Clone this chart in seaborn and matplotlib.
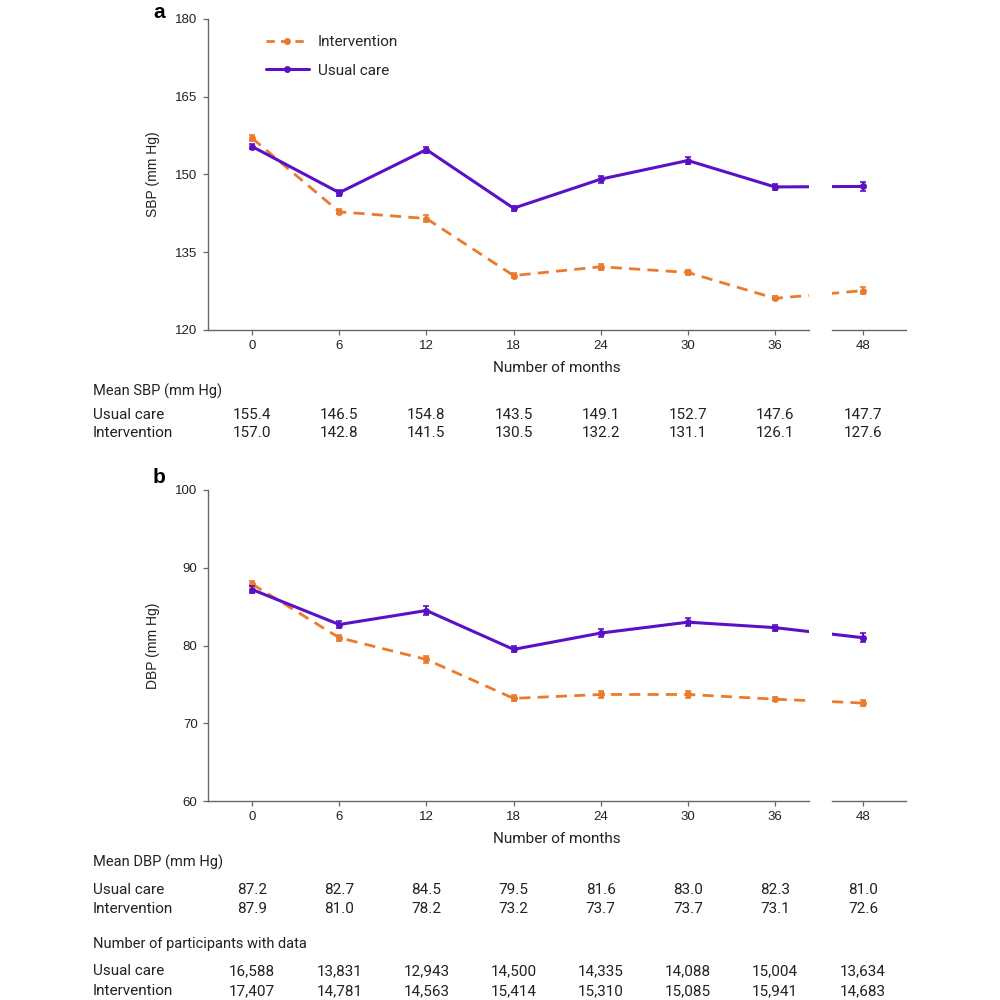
import numpy as np
import pandas as pd
import matplotlib
matplotlib.use("Agg")
import matplotlib.pyplot as plt
from matplotlib.lines import Line2D
import seaborn as sns

# ---- data ----
months = [0, 6, 12, 18, 24, 30, 36, 48]
groups = ["Intervention", "Usual care"]

sbp_usual = [155.4, 146.5, 154.8, 143.5, 149.1, 152.7, 147.6, 147.7]
sbp_interv = [157.0, 142.8, 141.5, 130.5, 132.2, 131.1, 126.1, 127.6]
sbp_usual_err = [0.5, 0.6, 0.6, 0.5, 0.7, 0.6, 0.5, 0.9]
sbp_interv_err = [0.6, 0.5, 0.7, 0.5, 0.6, 0.5, 0.4, 0.7]

dbp_usual = [87.2, 82.7, 84.5, 79.5, 81.6, 83.0, 82.3, 81.0]
dbp_interv = [87.9, 81.0, 78.2, 73.2, 73.7, 73.7, 73.1, 72.6]
dbp_usual_err = [0.4, 0.4, 0.6, 0.4, 0.5, 0.5, 0.4, 0.6]
dbp_interv_err = [0.4, 0.4, 0.5, 0.4, 0.4, 0.4, 0.3, 0.4]

n_usual = ["16,588", "13,831", "12,943", "14,500", "14,335", "14,088", "15,004", "13,634"]
n_interv = ["17,407", "14,781", "14,563", "15,414", "15,310", "15,085", "15,941", "14,683"]

colors = {"Intervention": "#EC7A2C", "Usual care": "#5B10C6"}
interv_dashes = (4, 2.6)

sns.set_theme(style="ticks")
plt.rcParams["font.family"] = ["Liberation Sans", "DejaVu Sans"]
plt.rcParams["axes.edgecolor"] = "#666666"
plt.rcParams["xtick.color"] = "#666666"
plt.rcParams["ytick.color"] = "#666666"
plt.rcParams["xtick.labelcolor"] = "#222222"
plt.rcParams["ytick.labelcolor"] = "#222222"

fig = plt.figure(figsize=(10, 10), dpi=100)

# positions are category indices (48 sits one step after 36, behind an axis break)
pos = list(range(len(months)))


def make_df(usual, interv, usual_err, interv_err):
    rows = []
    for i, m in enumerate(months):
        rows.append({"pos": pos[i], "month": m, "group": "Usual care",
                     "value": usual[i], "err": usual_err[i]})
        rows.append({"pos": pos[i], "month": m, "group": "Intervention",
                     "value": interv[i], "err": interv_err[i]})
    return pd.DataFrame(rows)


def draw_panel(bottom, df, ylim, yticks, ylabel, letter, letter_y):
    ax_l = fig.add_axes([0.208, bottom, 0.601, 0.311])
    ax_r = fig.add_axes([0.832, bottom, 0.074, 0.311], sharey=ax_l)
    for ax in (ax_l, ax_r):
        # intervention first so usual care sits on top
        for g in groups:
            sub = df[df["group"] == g]
            sns.lineplot(data=sub, x="pos", y="value", ax=ax, color=colors[g],
                         linewidth=2.2 if g == "Usual care" else 2.0,
                         marker="o", markersize=5, markeredgewidth=0,
                         legend=False, zorder=3 if g == "Usual care" else 2)
            ax.errorbar(sub["pos"], sub["value"], yerr=sub["err"], fmt="none",
                        ecolor=colors[g], elinewidth=1.4, capsize=2.5,
                        capthick=1.2, zorder=4)
        for l in ax.get_lines():
            if l.get_color() == colors["Intervention"]:
                l.set_dashes(interv_dashes)
        ax.set_xlabel("")
        ax.set_ylabel("")
        ax.tick_params(axis="both", length=3.5, width=0.9, labelsize=9.5, pad=4)
        for s in ("top", "right"):
            ax.spines[s].set_visible(False)
        ax.spines["bottom"].set_linewidth(1.0)
        ax.spines["left"].set_linewidth(1.0)
    ax_l.set_xlim(-0.506, 6.39)
    ax_r.set_xlim(6.644, 7.494)
    ax_l.set_xticks(pos[:7])
    ax_l.set_xticklabels([str(m) for m in months[:7]])
    ax_r.set_xticks([pos[7]])
    ax_r.set_xticklabels([str(months[7])])
    ax_l.set_ylim(*ylim)
    ax_l.set_yticks(yticks)
    ax_r.spines["left"].set_visible(False)
    ax_r.tick_params(axis="y", left=False, labelleft=False)
    ax_l.set_ylabel(ylabel, fontsize=10, color="#222222")
    ax_l.yaxis.set_label_coords(-0.08, 0.5)
    fig.text(0.557, bottom - 0.038, "Number of months", ha="center", va="center",
             fontsize=11, color="#222222", family=["Roboto", "DejaVu Sans"])
    fig.text(0.153, letter_y, letter, ha="left", va="top",
             fontsize=15, fontweight="bold", color="black")
    return ax_l, ax_r


sbp_df = make_df(sbp_usual, sbp_interv, sbp_usual_err, sbp_interv_err)
dbp_df = make_df(dbp_usual, dbp_interv, dbp_usual_err, dbp_interv_err)

ax_a, ax_a2 = draw_panel(0.670, sbp_df, (120, 180), [120, 135, 150, 165, 180],
                         "SBP (mm Hg)", "a", 0.997)
ax_b, ax_b2 = draw_panel(0.199, dbp_df, (60, 100), [60, 70, 80, 90, 100],
                         "DBP (mm Hg)", "b", 0.532)

# legend
handles = [
    Line2D([], [], color=colors["Intervention"], linewidth=2.0,
           dashes=(3, 2.2), marker="o", markersize=5, markeredgewidth=0),
    Line2D([], [], color=colors["Usual care"], linewidth=2.2,
           marker="o", markersize=5, markeredgewidth=0),
]
fig.legend(handles, groups, loc="upper left", bbox_to_anchor=(0.266, 0.965),
           frameon=False, handlelength=2.8, handletextpad=0.6,
           labelspacing=0.95, borderpad=0, borderaxespad=0,
           prop={"family": ["Roboto", "DejaVu Sans"], "size": 11})

# tables under the panels
tfont = ["Roboto", "DejaVu Sans"]


def col_x(i):
    ax = ax_a if i < 7 else ax_a2
    disp = ax.transData.transform((pos[i], 0))
    return fig.transFigure.inverted().transform(disp)[0]


def table_block(title, title_y, rows):
    fig.text(0.093, 1 - title_y, title, ha="left", va="center", fontsize=10.5,
             color="#222222", family=tfont)
    for label, y, vals in rows:
        fig.text(0.093, 1 - y, label, ha="left", va="center", fontsize=11,
                 color="#222222", family=tfont)
        for i, v in enumerate(vals):
            fig.text(col_x(i), 1 - y, v, ha="center", va="center", fontsize=11,
                     color="#222222", family=tfont)


fmt = lambda arr: [f"{v:.1f}" for v in arr]

table_block("Mean SBP (mm Hg)", 0.391,
            [("Usual care", 0.415, fmt(sbp_usual)),
             ("Intervention", 0.433, fmt(sbp_interv))])
table_block("Mean DBP (mm Hg)", 0.862,
            [("Usual care", 0.890, fmt(dbp_usual)),
             ("Intervention", 0.909, fmt(dbp_interv))])
table_block("Number of participants with data", 0.944,
            [("Usual care", 0.971, n_usual),
             ("Intervention", 0.991, n_interv)])

fig.savefig("out.png", dpi=100, facecolor="white")
